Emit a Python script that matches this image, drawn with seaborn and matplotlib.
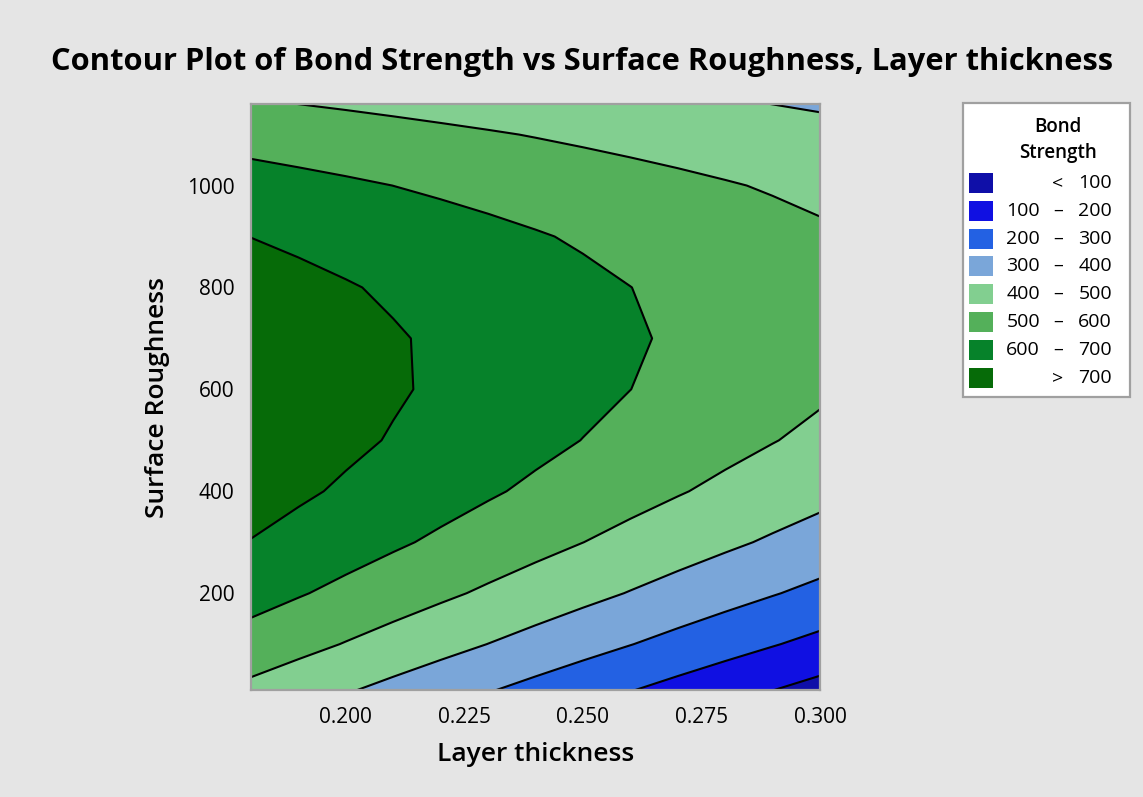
import numpy as np
import matplotlib
matplotlib.use("Agg")
import matplotlib.pyplot as plt
from matplotlib.patches import Rectangle
import seaborn as sns

# Grid
layer_thickness = [0.18, 0.19, 0.20, 0.21, 0.22, 0.23, 0.24, 0.25, 0.26, 0.27, 0.28, 0.29, 0.30]
surface_roughness = [10, 100, 200, 300, 400, 500, 600, 700, 800, 900, 1000, 1100, 1160]

# Bond strength, one row per surface roughness value, one column per layer thickness
bond_strength = [
    [476.6, 442.5, 408.3, 374.2, 340.1, 306.0, 271.9, 237.7, 203.6, 169.4, 135.3, 101.2, 66.9],
    [560.3, 528.1, 495.8, 463.6, 431.4, 399.1, 366.9, 334.6, 302.4, 270.1, 237.8, 205.6, 173.3],
    [637.1, 607.0, 576.8, 546.7, 516.6, 486.4, 456.3, 426.1, 396.0, 365.8, 335.7, 305.5, 275.3],
    [697.0, 668.9, 640.9, 612.8, 584.8, 556.8, 528.7, 500.6, 472.6, 444.5, 416.5, 388.4, 360.3],
    [739.8, 713.9, 687.9, 661.9, 636.0, 610.1, 584.2, 558.2, 532.2, 506.2, 480.3, 454.3, 428.3],
    [765.7, 741.8, 718.0, 694.1, 670.2, 646.4, 622.6, 598.7, 574.8, 550.9, 527.1, 503.2, 479.3],
    [774.5, 752.7, 731.0, 709.2, 687.5, 665.8, 644.0, 622.2, 600.4, 578.6, 556.9, 535.1, 513.3],
    [766.3, 746.7, 727.0, 707.3, 687.7, 668.1, 648.4, 628.7, 609.0, 589.4, 569.7, 550.0, 530.3],
    [741.2, 723.6, 706.1, 688.5, 670.9, 653.4, 635.8, 618.2, 600.6, 583.1, 565.5, 547.9, 530.3],
    [699.0, 683.5, 668.1, 652.6, 637.1, 621.7, 606.3, 590.7, 575.2, 559.8, 544.3, 528.8, 513.3],
    [639.9, 626.5, 613.2, 599.7, 586.3, 573.1, 559.7, 546.2, 532.8, 519.5, 506.1, 492.7, 479.3],
    [563.7, 552.4, 541.2, 529.9, 518.6, 507.4, 496.1, 484.7, 473.4, 462.2, 450.9, 439.6, 428.3],
    [509.8, 499.8, 489.9, 479.8, 469.7, 459.8, 449.8, 439.7, 429.6, 419.7, 409.6, 399.5, 389.5],
]

level_breaks = [100, 200, 300, 400, 500, 600, 700]
legend_labels = [("", "<", "100"), ("100", "\u2013", "200"), ("200", "\u2013", "300"),
                 ("300", "\u2013", "400"), ("400", "\u2013", "500"), ("500", "\u2013", "600"),
                 ("600", "\u2013", "700"), ("", ">", "700")]
band_colors = ["#0f0fa8", "#1010e2", "#2361e3", "#7aa6d9", "#82cf90",
               "#54b05a", "#06822a", "#066b08"]

bg = "#e5e5e5"
sns.set_theme(style="white", rc={"figure.facecolor": bg, "axes.facecolor": bg,
                                 "axes.edgecolor": "#a0a0a0", "axes.linewidth": 1.6,
                                 "text.color": "black", "axes.labelcolor": "black"})
plt.rcParams["font.family"] = ["Open Sans", "DejaVu Sans"]

fig = plt.figure(figsize=(11.43, 7.97), dpi=100)
ax = fig.add_axes([251 / 1143, 1 - 690 / 797, (820 - 251) / 1143, (690 - 104) / 797])

X, Y = np.meshgrid(layer_thickness, surface_roughness)
Z = np.array(bond_strength)
levels = [-1000] + level_breaks + [2000]
ax.contourf(X, Y, Z, levels=levels, colors=band_colors)
ax.contour(X, Y, Z, levels=level_breaks, colors="black", linewidths=1.5)

ax.set_xlim(0.18, 0.30)
ax.set_ylim(10, 1160)
ax.set_xticks([0.200, 0.225, 0.250, 0.275, 0.300])
ax.set_xticklabels(["0.200", "0.225", "0.250", "0.275", "0.300"])
ax.set_yticks([200, 400, 600, 800, 1000])
ax.tick_params(axis="both", direction="out", length=7, width=1.6, color="#a0a0a0",
               labelsize=15, labelcolor="black", pad=5)
ax.set_xlabel("Layer thickness", fontsize=19, fontweight="semibold", labelpad=10)
ax.set_ylabel("Surface Roughness", fontsize=19, fontweight="semibold", labelpad=12)

fig.text(0.5 * (52 + 1112) / 1143, 1 - 62 / 797,
         "Contour Plot of Bond Strength vs Surface Roughness, Layer thickness",
         ha="center", va="center", fontsize=22.2, fontweight="bold")

# legend box drawn by hand so the numbers line up on the right
def fx(px):
    return px / 1143

def fy(py):
    return 1 - py / 797

fig.add_artist(Rectangle((fx(963), fy(397)), fx(1130) - fx(963), fy(103) - fy(397),
                         transform=fig.transFigure, facecolor="white",
                         edgecolor="#a0a0a0", linewidth=1.6))
fig.text(fx(1058), fy(127), "Bond", ha="center", va="center", fontsize=13.5,
         fontweight="semibold")
fig.text(fx(1058), fy(153), "Strength", ha="center", va="center", fontsize=13.5,
         fontweight="semibold")
row_y = [183, 211, 239, 266, 294, 322, 350, 378]
for (lo, mid, hi), col, py in zip(legend_labels, band_colors, row_y):
    fig.add_artist(Rectangle((fx(969), fy(py + 10)), fx(993) - fx(969), fy(py - 10) - fy(py + 10),
                             transform=fig.transFigure, facecolor=col, edgecolor="none"))
    fig.text(fx(1040), fy(py), lo, ha="right", va="center", fontsize=14)
    fig.text(fx(1058), fy(py), mid, ha="center", va="center", fontsize=14)
    fig.text(fx(1112), fy(py), hi, ha="right", va="center", fontsize=14)

fig.savefig("out.png", dpi=100, facecolor=bg)
